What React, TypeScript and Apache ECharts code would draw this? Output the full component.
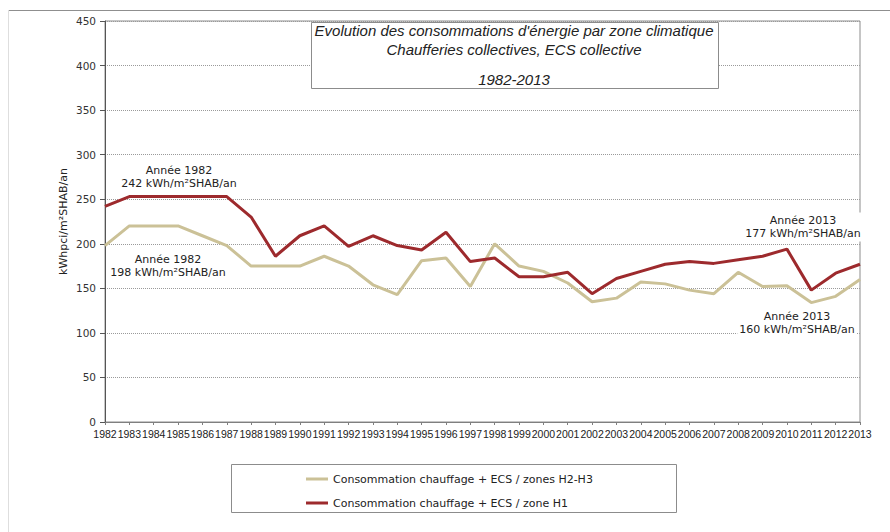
import React, { useEffect, useRef } from "react";
import * as echarts from "echarts";

const years = ["1982","1983","1984","1985","1986","1987","1988","1989","1990","1991","1992","1993","1994","1995","1996","1997","1998","1999","2000","2001","2002","2003","2004","2005","2006","2007","2008","2009","2010","2011","2012","2013"];
const zonesH2H3 = [198,220,220,220,209,198,175,175,175,186,175,154,143,181,184,152,200,175,169,156,135,139,157,155,148,144,168,152,153,134,141,160];
const zoneH1 = [242,253,253,253,253,253,230,186,209,220,197,209,198,193,213,180,184,163,163,168,144,161,169,177,180,178,182,186,194,148,167,177];
const seriesNames = ["Consommation chauffage + ECS / zones H2-H3", "Consommation chauffage + ECS / zone H1"];
const titleLines = ["Evolution des consommations d'énergie par zone climatique", "Chaufferies collectives, ECS collective", "1982-2013"];
const yAxisName = "kWhpci/m²SHAB/an";

const FONT = "DejaVu Sans";

export default function App() {
  const ref = useRef<HTMLDivElement>(null);
  useEffect(() => {
    if (!ref.current) return;
    const chart = echarts.init(ref.current, null, { renderer: "svg" });
    const annot = (x: number, y: number, l1: string, l2: string, bg: boolean) => ({
      type: "text",
      x,
      y,
      z: 50,
      style: {
        text: l1 + "\n" + l2,
        font: `11px "${FONT}"`,
        fill: "#222",
        align: "center",
        verticalAlign: "middle",
        lineHeight: 12.6,
        backgroundColor: bg ? "#fff" : undefined,
        padding: bg ? [2, 2, 2, 2] : 0,
      },
    });
    const titleFont = `italic 15px "Liberation Sans"`;
    chart.setOption({
      animation: false,
      backgroundColor: "#fff",
      grid: {
        left: 105,
        right: 30,
        top: 21,
        bottom: 110,
        show: true,
        borderColor: "#8c8c8c",
        borderWidth: 1,
        backgroundColor: "transparent",
      },
      legend: {
        orient: "vertical",
        left: 301,
        top: 467,
        itemWidth: 22,
        itemHeight: 3,
        itemGap: 10,
        icon: "rect",
        data: seriesNames,
        textStyle: { fontFamily: FONT, fontSize: 11, color: "#222", lineHeight: 14 },
      },
      xAxis: {
        type: "category",
        data: years,
        boundaryGap: false,
        axisLine: { lineStyle: { color: "#7f7f7f", width: 1 } },
        axisTick: { show: true, interval: 0, length: 3, lineStyle: { color: "#7f7f7f" } },
        axisLabel: { interval: 0, fontFamily: "Liberation Sans", fontSize: 10.5, color: "#222", margin: 6 },
        splitLine: { show: false },
      },
      yAxis: {
        type: "value",
        min: 0,
        max: 450,
        interval: 50,
        name: yAxisName,
        nameLocation: "middle",
        nameRotate: 90,
        nameGap: 36,
        nameMoveOverlap: false,
        nameTextStyle: { fontFamily: FONT, fontSize: 11, color: "#222" },
        axisLine: { show: true, lineStyle: { color: "#555", width: 1 } },
        axisTick: { show: true, length: 5, lineStyle: { color: "#555" } },
        axisLabel: { fontFamily: FONT, fontSize: 10.5, color: "#333", margin: 9 },
        splitLine: { show: true, lineStyle: { color: "#9a9a9a", type: [1, 1], width: 1 } },
      },
      series: [
        {
          name: seriesNames[0],
          type: "line",
          data: zonesH2H3,
          symbol: "none",
          lineStyle: { color: "#cbc197", width: 3 },
          itemStyle: { color: "#cbc197" },
        },
        {
          name: seriesNames[1],
          type: "line",
          data: zoneH1,
          symbol: "none",
          lineStyle: { color: "#9d2a2d", width: 3 },
          itemStyle: { color: "#9d2a2d" },
        },
      ],
      graphic: [
        { type: "line", shape: { x1: 8, y1: 10.5, x2: 890, y2: 10.5 }, style: { stroke: "#8f8f8f", lineWidth: 1 }, z: 40 },
        { type: "line", shape: { x1: 8.5, y1: 10, x2: 8.5, y2: 532 }, style: { stroke: "#dedede", lineWidth: 1 }, z: 40 },
        { type: "rect", shape: { x: 311.5, y: 22.5, width: 407, height: 66 }, style: { fill: "#fff", stroke: "#8c8c8c", lineWidth: 1 }, z: 40 },
        { type: "text", x: 514, y: 30, z: 41, style: { text: titleLines[0], font: titleFont, fill: "#222", align: "center", verticalAlign: "middle" } },
        { type: "text", x: 514, y: 49, z: 41, style: { text: titleLines[1], font: titleFont, fill: "#222", align: "center", verticalAlign: "middle" } },
        { type: "text", x: 514, y: 79, z: 41, style: { text: titleLines[2], font: titleFont, fill: "#222", align: "center", verticalAlign: "middle" } },
        { type: "rect", shape: { x: 231.5, y: 464.5, width: 445, height: 48 }, style: { fill: "none", stroke: "#8c8c8c", lineWidth: 1 }, z: 40 },
        annot(179, 177, "Année 1982", "242 kWh/m²SHAB/an", false),
        annot(168, 266, "Année 1982", "198 kWh/m²SHAB/an", false),
        annot(803, 227, "Année 2013", "177 kWh/m²SHAB/an", true),
        annot(797, 323, "Année 2013", "160 kWh/m²SHAB/an", true),
      ],
    });
    return () => chart.dispose();
  }, []);
  return <div ref={ref} style={{ position: "fixed", left: 0, top: 0, width: 890, height: 532 }} />;
}
